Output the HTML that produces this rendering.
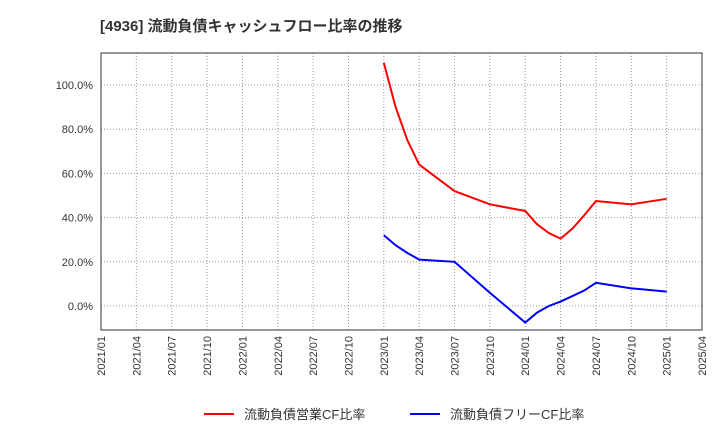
<!DOCTYPE html>
<html><head><meta charset="utf-8"><style>
body{margin:0;background:#fff;width:720px;height:440px;overflow:hidden;font-family:"Liberation Sans","Noto Sans CJK JP",sans-serif}
</style></head><body>
<svg id="c" width="720" height="440" xmlns="http://www.w3.org/2000/svg">
<text x="100" y="31" font-size="15" font-weight="bold" fill="#333" font-family="Liberation Sans, Noto Sans CJK JP, sans-serif">[4936]  流動負債キャッシュフロー比率の推移</text>
<g id="grid"></g><g id="axes"></g><g id="series"></g>
<g>
<line x1="204" y1="414" x2="234" y2="414" stroke="#f00" stroke-width="2"/>
<text x="244" y="419" font-size="13" fill="#333">流動負債営業CF比率</text>
<line x1="410" y1="414" x2="440" y2="414" stroke="#00f" stroke-width="2"/>
<text x="450" y="419" font-size="13" fill="#333">流動負債フリーCF比率</text>
</g>
</svg>
<script>
const xTicks=["2021/01","2021/04","2021/07","2021/10","2022/01","2022/04","2022/07","2022/10","2023/01","2023/04","2023/07","2023/10","2024/01","2024/04","2024/07","2024/10","2025/01","2025/04"];
const yTicks=[0,20,40,60,80,100];
const dates=["2023/01","2023/02","2023/03","2023/04","2023/07","2023/10","2024/01","2024/02","2024/03","2024/04","2024/05","2024/06","2024/07","2024/10","2025/01"];
const opCF=[110,90,75,64,52,46,43,37,33,30.5,35,41,47.5,46,48.5];
const freeCF=[32,27.5,24,21,20,6,-7.5,-3,0,2,4.5,7,10.5,8,6.5];
const L=101,R=702,T=53,B=330;
function mi(s){const[a,b]=s.split("/").map(Number);return (a-2021)*12+(b-1);}
const X=d=>L+(R-L)*mi(d)/51;
const Y=v=>306-v*(306-85)/100;
const ns="http://www.w3.org/2000/svg";
function el(p,t,a){const e=document.createElementNS(ns,t);for(const k in a)e.setAttribute(k,a[k]);p.appendChild(e);return e;}
const g=document.getElementById("grid"),ax=document.getElementById("axes"),s=document.getElementById("series");
xTicks.forEach(t=>{const x=X(t);
const l=el(g,"line",{x1:x,y1:T,x2:x,y2:B,stroke:"#999","stroke-dasharray":"1,2"});


const tx=el(ax,"text",{x:0,y:0,"font-size":11,fill:"#333","text-anchor":"end",transform:`translate(${x+4},${B+6}) rotate(-90)`});
tx.textContent=t;

});
yTicks.forEach(v=>{const y=Y(v);
const l=el(g,"line",{x1:L,y1:y,x2:R,y2:y,stroke:"#999","stroke-dasharray":"1,2"});


const tx=el(ax,"text",{x:L-8,y:y+4,"font-size":11,fill:"#333","text-anchor":"end"});
tx.textContent=v.toFixed(1)+"%";

});
const f=el(ax,"rect",{x:L,y:T,width:R-L,height:B-T,fill:"none",stroke:"#333"});


[[opCF,"#f00","line-operating-cf"],[freeCF,"#00f","line-free-cf"]].forEach(([d,c,n])=>{
const p=el(s,"polyline",{points:d.map((v,i)=>X(dates[i])+","+Y(v)).join(" "),fill:"none",stroke:c,"stroke-width":2});

});
</script>
</body></html>
